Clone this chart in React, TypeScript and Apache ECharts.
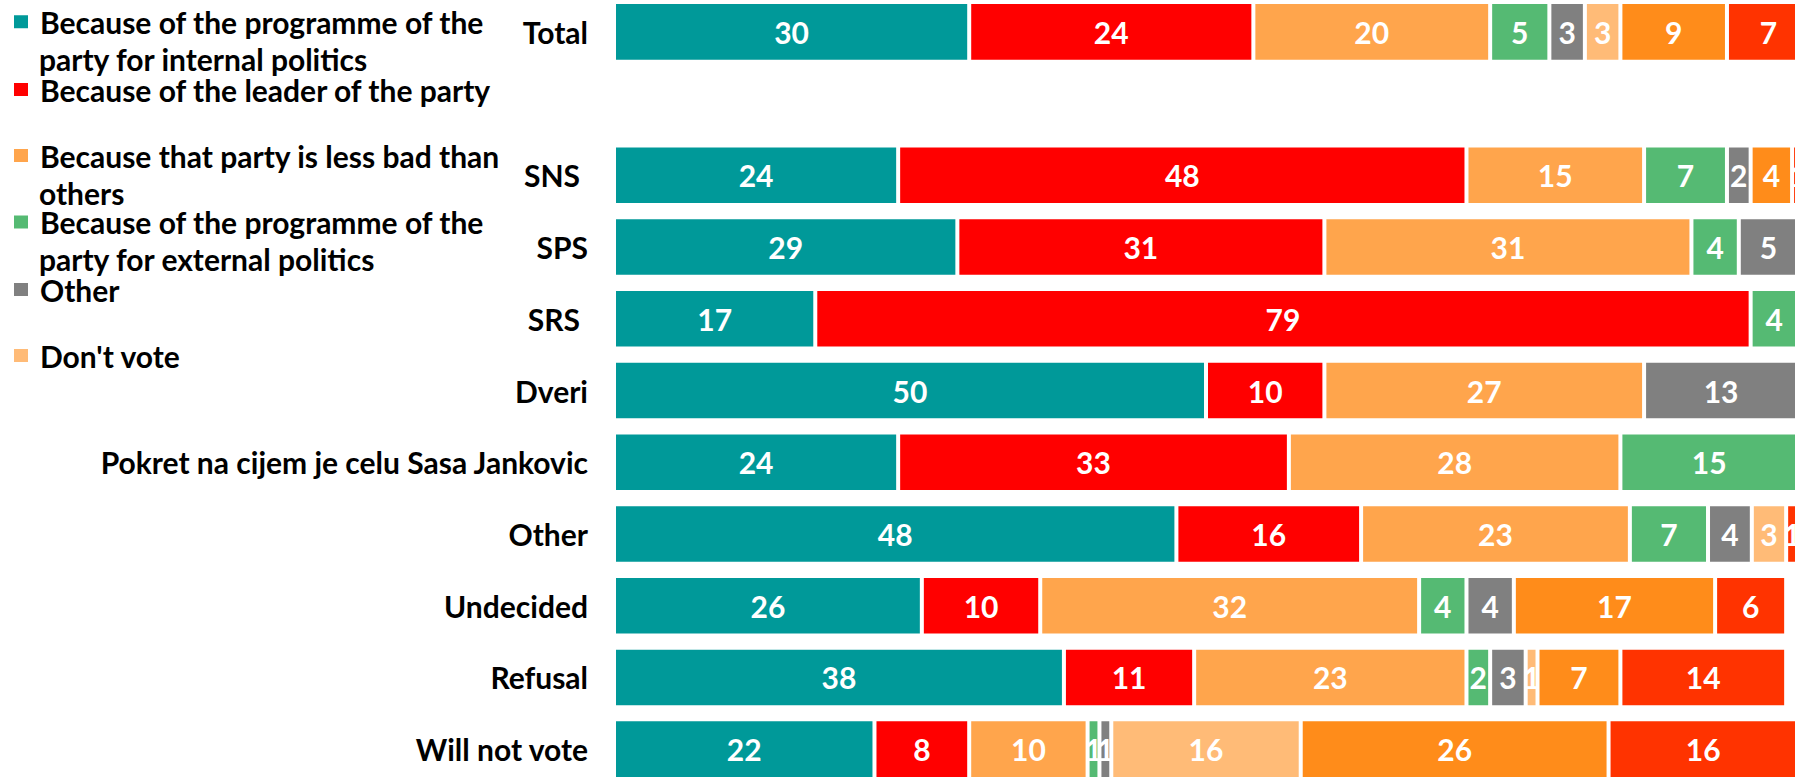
import React, { useEffect, useRef } from "react";
import * as echarts from "echarts";

const categories = [
  "Total",
  " ",
  "SNS",
  "SPS",
  "SRS",
  "Dveri",
  "Pokret na cijem je celu Sasa Jankovic",
  "Other",
  "Undecided",
  "Refusal",
  "Will not vote",
];

const seriesNames = [
  "Because of the programme of the party for internal politics",
  "Because of the leader of the party",
  "Because that party is less bad than others",
  "Because of the programme of the party for external politics",
  "Other",
  "Don't vote",
  "Don't know",
  "Refusal",
];

// legend text lines, as wrapped in the reference
const legendLines = [
  ["Because of the programme of the", "party for internal politics"],
  ["Because of the leader of the party"],
  ["Because that party is less bad than", "others"],
  ["Because of the programme of the", "party for external politics"],
  ["Other"],
  ["Don't vote"],
];

const internalPolitics = [30, null, 24, 29, 17, 50, 24, 47.5, 26, 38, 22];
const leader = [24, null, 48, 31, 79, 10, 33, 15.6, 10, 11, 8];
const lessBad = [20, null, 15, 31, null, 27, 28, 22.7, 32, 23, 10];
const externalPolitics = [5, null, 7, 4, 4, null, 15, 6.6, 4, 2, 1];
const otherReason = [3, null, 2, 5, null, 13, null, 3.7, 4, 3, 1];
const dontVote = [3, null, null, null, null, null, null, 2.9, null, 1, 16];
const dontKnow = [9, null, 3.5, null, null, null, null, null, 17, 7, 26];
const refusal = [7, null, 1, null, null, null, null, 1, 6, 14, 16];

const seriesValues = [
  internalPolitics,
  leader,
  lessBad,
  externalPolitics,
  otherReason,
  dontVote,
  dontKnow,
  refusal,
];

const colors = [
  "#009999",
  "#FF0000",
  "#FFA54C",
  "#55BA73",
  "#808080",
  "#FFBB77",
  "#FF8C1A",
  "#FF3300",
];

const FONT = "Lato";

export default function App() {
  const ref = useRef<HTMLDivElement>(null);

  useEffect(() => {
    document.body.style.margin = "0";
    if (!ref.current) return;
    const chart = echarts.init(ref.current, null, { renderer: "svg" });

    const L = 37;
    const iconCenters = [21.7, 89.5, 155.5, 222, 289.5, 355.5];
    const legends: any[] = [];
    legendLines.forEach((lines, i) => {
      lines.forEach((line, j) => {
        const center = iconCenters[i] + j * L;
        legends.push({
          data: [
            j === 0
              ? { name: seriesNames[i] }
              : { name: seriesNames[i], icon: "none" },
          ],
          orient: "vertical",
          left: 12,
          top: center - L / 2,
          padding: 0,
          icon: "rect",
          itemWidth: 16,
          itemHeight: 15,
          selectedMode: false,
          formatter: () => line,
          textStyle: {
            fontFamily: FONT,
            fontWeight: "bold",
            fontSize: 30,
            color: "#000",
            lineHeight: L,
            padding: [0, 0, 0, 6],
          },
        });
      });
    });

    const labelStyle = {
      fontFamily: FONT,
      fontWeight: "bold",
      fontSize: 30,
      color: "#000",
    };

    chart.setOption({
      animation: false,
      color: colors,
      legend: legends,
      grid: {
        left: 614,
        right: -3,
        top: -4,
        bottom: -8,
        outerBoundsMode: "none",
        containLabel: false,
      },
      xAxis: {
        type: "value",
        min: 0,
        max: 100,
        show: false,
        splitLine: { show: false },
      },
      yAxis: {
        type: "category",
        data: categories,
        inverse: true,
        axisLine: { show: false },
        axisTick: { show: false },
        axisLabel: {
          margin: 26,
          ...labelStyle,
          formatter: (v: string) =>
            v === "SNS" || v === "SRS" ? `{p|${v}}` : v,
          rich: {
            p: { ...labelStyle, padding: [0, 8, 0, 0] },
          },
        },
      },
      series: seriesNames.map((name, i) => ({
        name,
        type: "bar",
        stack: "total",
        data: seriesValues[i],
        barCategoryGap: "17%",
        clip: false,
        itemStyle: {
          color: colors[i],
          borderColor: "#fff",
          borderWidth: 2,
        },
        label: {
          show: true,
          position: "inside",
          formatter: (p: any) => String(Math.round(p.value)),
          color: "#fff",
          fontFamily: FONT,
          fontWeight: "bold",
          fontSize: 30,
        },
      })),
    });

    return () => chart.dispose();
  }, []);

  return (
    <div
      ref={ref}
      style={{ position: "absolute", left: 0, top: 0, width: 1795, height: 777 }}
    />
  );
}
